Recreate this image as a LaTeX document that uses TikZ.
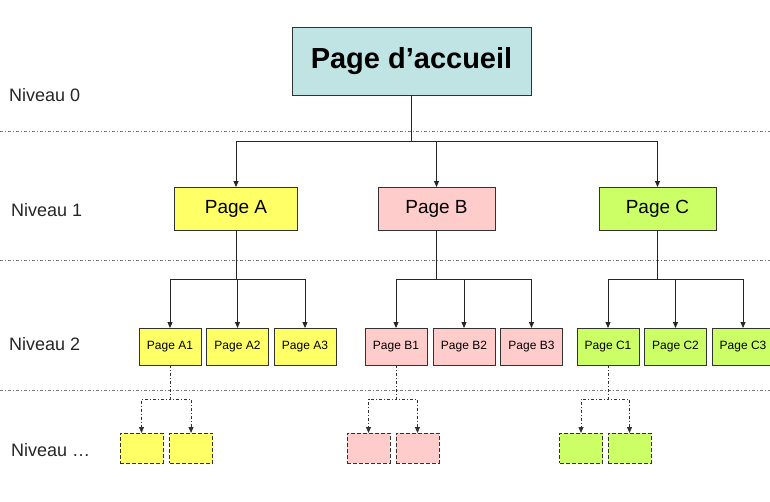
\documentclass[tikz,border=0pt]{standalone}
\usepackage{fontspec}
\setmainfont{Liberation Sans}
\usetikzlibrary{arrows.meta}
\definecolor{cteal}{RGB}{192,228,228}
\definecolor{cyel}{RGB}{255,255,102}
\definecolor{cpink}{RGB}{255,204,204}
\definecolor{cgreen}{RGB}{204,255,102}
\definecolor{cedge}{RGB}{50,50,50}
\definecolor{csep}{RGB}{120,120,120}
\tikzset{
  box/.style={draw=cedge, line width=0.9pt, inner sep=0pt, outer sep=0pt},
  topbox/.style={box, fill=cteal, minimum width=239pt, minimum height=68pt, font=\fontsize{29}{32}\selectfont\bfseries},
  lvlone/.style={box, minimum width=117pt, minimum height=43pt, font=\fontsize{19}{22}\selectfont},
  lvltwo/.style={box, minimum width=62pt, minimum height=37pt, font=\fontsize{12}{14}\selectfont},
  lvlthree/.style={box, dashed, dash pattern=on 4pt off 2pt, minimum width=43pt, minimum height=30pt},
  lvllabel/.style={anchor=west, inner sep=0pt, font=\fontsize{18}{20}\selectfont, text=black!85},
  conn/.style={draw=black!85, line width=0.9pt, -{Triangle[length=6pt,width=5pt]}},
  dconn/.style={draw=black!80, line width=0.8pt, dash pattern=on 3pt off 2pt on 1pt off 2pt, -{Triangle[length=6pt,width=5pt]}},
  sep/.style={draw=csep, line width=0.8pt, dash pattern=on 3pt off 2pt on 1pt off 2pt},
}
\begin{document}
\begin{tikzpicture}[x=1pt,y=-1pt]
\useasboundingbox[fill=white] (0,0) rectangle (770,501);
% separators
\coordinate (s0l) at (0,131); \coordinate (s0r) at (770,131);
\coordinate (s1l) at (0,260); \coordinate (s1r) at (770,260);
\coordinate (s2l) at (0,390); \coordinate (s2r) at (770,390);
\draw[sep] (s0l) -- (s0r);
\draw[sep] (s1l) -- (s1r);
\draw[sep] (s2l) -- (s2r);
% level labels
\node[lvllabel] (n0) at (9,95) {Niveau 0};
\node[lvllabel] (n1) at (11,210) {Niveau 1};
\node[lvllabel] (n2) at (9,344) {Niveau 2};
\node[lvllabel] (n3) at (11,450) {Niveau …};
% nodes
\node[topbox] (top) at (411.5,61) {Page d’accueil};
\node[lvlone, fill=cyel, minimum width=123pt] (A) at (236,208.5) {Page A};
\node[lvlone, fill=cpink] (B) at (436.5,208.5) {Page B};
\node[lvlone, fill=cgreen] (C) at (657.5,208.5) {Page C};
\node[lvltwo, fill=cyel] (A1) at (170,346.5) {Page A1};
\node[lvltwo, fill=cyel] (A2) at (237.5,346.5) {Page A2};
\node[lvltwo, fill=cyel] (A3) at (305,346.5) {Page A3};
\node[lvltwo, fill=cpink] (B1) at (396,346.5) {Page B1};
\node[lvltwo, fill=cpink] (B2) at (464,346.5) {Page B2};
\node[lvltwo, fill=cpink] (B3) at (531.5,346.5) {Page B3};
\node[lvltwo, fill=cgreen] (C1) at (608,346.5) {Page C1};
\node[lvltwo, fill=cgreen] (C2) at (675.5,346.5) {Page C2};
\node[lvltwo, fill=cgreen] (C3) at (743,346.5) {Page C3};
\node[lvlthree, fill=cyel] (A11) at (141.5,448) {};
\node[lvlthree, fill=cyel] (A12) at (191,448) {};
\node[lvlthree, fill=cpink] (B11) at (368.5,448) {};
\node[lvlthree, fill=cpink] (B12) at (417.5,448) {};
\node[lvlthree, fill=cgreen] (C11) at (581,448) {};
\node[lvlthree, fill=cgreen] (C12) at (629.5,448) {};
% bus coordinates
\coordinate (b0) at (0,141);
\coordinate (b1) at (0,279);
\coordinate (b2) at (0,399);
% connectors level 0 -> 1
\draw[conn] (top.south) -- (top.south |- b0) -| (A.north);
\draw[conn] (top.south) -- (top.south |- b0) -| (B.north);
\draw[conn] (top.south) -- (top.south |- b0) -| (C.north);
% level 1 -> 2
\foreach \p/\c in {A/A1,A/A2,A/A3,B/B1,B/B2,B/B3,C/C1,C/C2,C/C3}{
  \draw[conn] (\p.south) -- (\p.south |- b1) -| (\c.north);
}
% level 2 -> 3
\foreach \p/\c in {A1/A11,A1/A12,B1/B11,B1/B12,C1/C11,C1/C12}{
  \draw[dconn] (\p.south) -- (\p.south |- b2) -| (\c.north);
}
\end{tikzpicture}
\end{document}
